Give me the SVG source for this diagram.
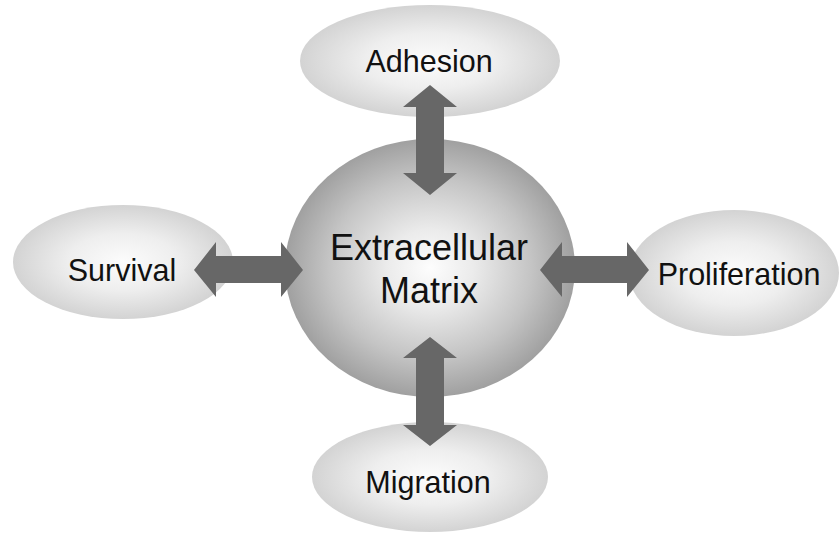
<svg xmlns="http://www.w3.org/2000/svg" width="839" height="540" viewBox="0 0 839 540">
<defs>
<radialGradient id="gEll" cx="50%" cy="50%" r="50%">
<stop offset="0" stop-color="#fcfcfc"/>
<stop offset="0.5" stop-color="#eeeeee"/>
<stop offset="1" stop-color="#d3d3d3"/>
</radialGradient>
<radialGradient id="gCore" cx="50%" cy="50%" r="50%">
<stop offset="0" stop-color="#fdfdfd"/>
<stop offset="0.3" stop-color="#ebebeb"/>
<stop offset="0.7" stop-color="#c4c4c4"/>
<stop offset="1" stop-color="#a0a0a0"/>
</radialGradient>
</defs>
<style>
.ell{fill:url(#gEll);}
.core{fill:url(#gCore);}
.lbl{font-family:"Liberation Sans",Arial,sans-serif;font-size:30.5px;fill:#111111;text-anchor:middle;}
.big{font-size:36px;}
.arr{fill:#676767;}
</style>
<rect width="839" height="540" fill="#ffffff"/>
<g id="node-adhesion">
<ellipse class="ell" cx="430" cy="61" rx="130" ry="56"/>
<text class="lbl" x="429" y="72">Adhesion</text>
</g>
<g id="node-survival">
<ellipse class="ell" cx="123" cy="262" rx="110" ry="57"/>
<text class="lbl" x="122" y="281">Survival</text>
</g>
<g id="node-proliferation">
<ellipse class="ell" cx="734" cy="273" rx="105" ry="63"/>
<text class="lbl" x="739" y="285">Proliferation</text>
</g>
<g id="node-migration">
<ellipse class="ell" cx="430" cy="477" rx="118" ry="55"/>
<text class="lbl" x="428" y="493">Migration</text>
</g>
<g id="node-ecm">
<ellipse class="core" cx="430" cy="268" rx="145" ry="129"/>
<text class="lbl big" x="429" y="260">Extracellular</text>
<text class="lbl big" x="429" y="303">Matrix</text>
</g>
<g id="connectors">
<path class="arr" d="M430,85 L457,107 L444,107 L444,173 L457,173 L430,195 L403,173 L416,173 L416,107 L403,107 Z"/>
<path class="arr" d="M430,337 L457,358 L444,358 L444,425 L457,425 L430,446 L403,425 L416,425 L416,358 L403,358 Z"/>
<path class="arr" d="M194,270 L216,242 L216,256 L281,256 L281,242 L303,270 L281,297 L281,283 L216,283 L216,297 Z"/>
<path class="arr" d="M540,270 L562,242 L562,256 L627,256 L627,242 L649,270 L627,297 L627,283 L562,283 L562,297 Z"/>
</g>
</svg>
